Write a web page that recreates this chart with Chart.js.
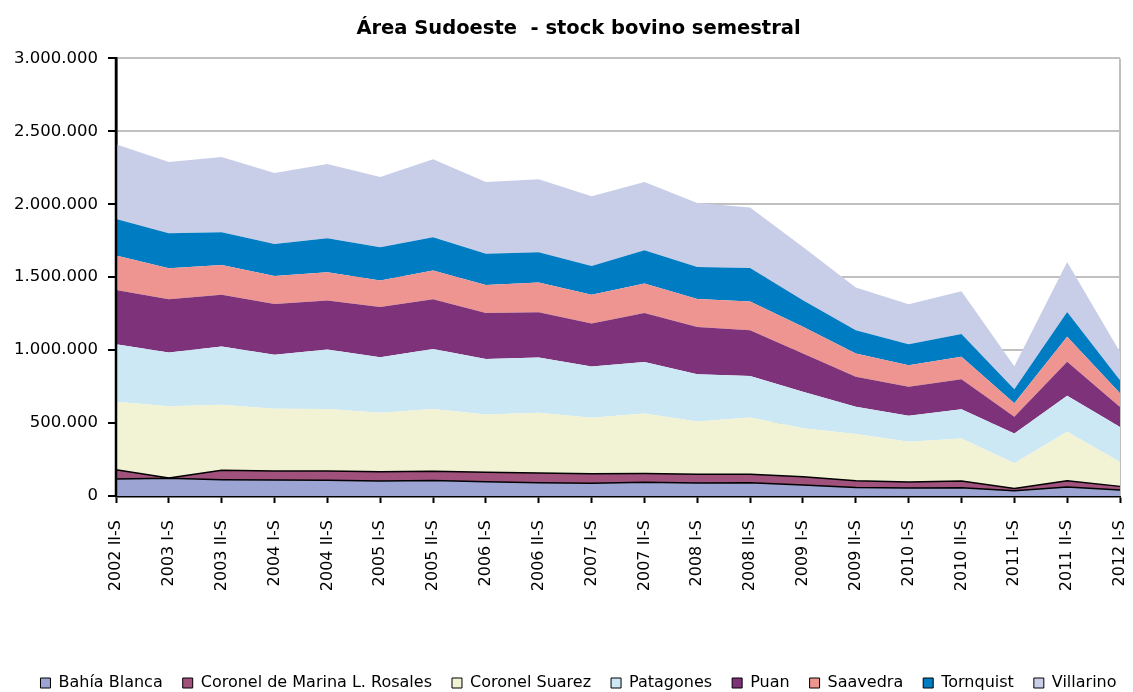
<!DOCTYPE html>
<html lang="es">
<head>
    <meta charset="UTF-8">
    <title>Área Sudoeste - stock bovino semestral</title>
    <script src="https://cdn.jsdelivr.net/npm/chart.js"></script>
    <style>
        body { margin: 0; background: #fff; }
        .wrap { width: 1133px; height: 692px; }
    </style>
</head>
<body>
    <div class="wrap"><canvas id="stockChart"></canvas></div>

    <script>
        // Semestres (eje X)
        const semestres = [
            '2002 II-S', '2003 I-S', '2003 II-S', '2004 I-S', '2004 II-S',
            '2005 I-S', '2005 II-S', '2006 I-S', '2006 II-S', '2007 I-S',
            '2007 II-S', '2008 I-S', '2008 II-S', '2009 I-S', '2009 II-S',
            '2010 I-S', '2010 II-S', '2011 I-S', '2011 II-S', '2012 I-S'
        ];

        // Cabezas por partido (aprox.)
        const bahiaBlanca = [116000, 121000, 112000, 110000, 108000, 103000, 106000, 98000, 91000, 87000, 94000, 89000, 91000, 75000, 59000, 55000, 57000, 36000, 62000, 41000];
        const rosales     = [64000, 2000, 64000, 61000, 63000, 63000, 63000, 64000, 67000, 66000, 61000, 60000, 58000, 57000, 46000, 41000, 46000, 16000, 43000, 25000];
        const suarez      = [466000, 493000, 449000, 427000, 425000, 404000, 427000, 397000, 412000, 383000, 411000, 362000, 390000, 332000, 320000, 276000, 292000, 172000, 335000, 167000];
        const patagones   = [395000, 368000, 400000, 370000, 408000, 382000, 411000, 381000, 380000, 352000, 352000, 324000, 283000, 250000, 187000, 178000, 199000, 205000, 247000, 240000];
        const puan        = [372000, 365000, 354000, 349000, 336000, 344000, 342000, 315000, 310000, 295000, 337000, 324000, 315000, 263000, 205000, 199000, 207000, 114000, 233000, 137000];
        const saavedra    = [235000, 212000, 205000, 192000, 194000, 181000, 197000, 192000, 203000, 196000, 202000, 192000, 196000, 183000, 160000, 148000, 153000, 92000, 171000, 95000];
        const tornquist   = [251000, 240000, 224000, 219000, 233000, 228000, 228000, 213000, 208000, 198000, 228000, 219000, 230000, 182000, 160000, 144000, 156000, 96000, 171000, 89000];
        const villarino   = [512000, 488000, 516000, 486000, 509000, 482000, 534000, 493000, 500000, 478000, 468000, 439000, 414000, 365000, 292000, 274000, 294000, 159000, 343000, 193000];

        const yTicks = [0, 500000, 1000000, 1500000, 2000000, 2500000, 3000000];

        const FONT = "'DejaVu Sans', sans-serif";

        function serie(label, data, color, outlined, fill) {
            return {
                label: label,
                data: data,
                backgroundColor: color,
                borderColor: outlined ? '#000' : color,
                borderWidth: outlined ? 1.5 : 0,
                pointRadius: 0,
                tension: 0,
                fill: fill
            };
        }

        // gray right edge behind the areas, black value axis on top of everything
        const plotFrame = {
            id: 'plotFrame',
            beforeDatasetsDraw(chart) {
                const { ctx, chartArea: a } = chart;
                ctx.save();
                ctx.strokeStyle = '#c0c0c0';
                ctx.lineWidth = 2;
                ctx.beginPath();
                ctx.moveTo(a.right, a.top);
                ctx.lineTo(a.right, a.bottom);
                ctx.stroke();
                ctx.restore();
            },
            afterDraw(chart) {
                const { ctx, chartArea: a } = chart;
                ctx.save();
                ctx.strokeStyle = '#000';
                ctx.lineWidth = 2.5;
                ctx.beginPath();
                ctx.moveTo(a.left, a.top);
                ctx.lineTo(a.left, a.bottom + 1);
                ctx.stroke();
                ctx.restore();
            }
        };

        window.onload = function() {
            new Chart(document.getElementById('stockChart'), {
                type: 'line',
                data: {
                    labels: semestres,
                    datasets: [
                        serie('Bahía Blanca', bahiaBlanca, '#9CA4D4', true, 'origin'),
                        serie('Coronel de Marina L. Rosales', rosales, '#A0527C', true, '-1'),
                        serie('Coronel Suarez', suarez, '#F2F2D4', false, '-1'),
                        serie('Patagones', patagones, '#CCE8F4', false, '-1'),
                        serie('Puan', puan, '#7E3279', false, '-1'),
                        serie('Saavedra', saavedra, '#EE9591', false, '-1'),
                        serie('Tornquist', tornquist, '#007CC3', false, '-1'),
                        serie('Villarino', villarino, '#C9CEE8', false, '-1')
                    ]
                },
                options: {
                    responsive: true,
                    maintainAspectRatio: false,
                    animation: false,
                    layout: { padding: { left: 5, right: -19, top: 0, bottom: -9 } },
                    plugins: {
                        title: {
                            display: true,
                            text: 'Área Sudoeste  - stock bovino semestral',
                            color: '#000',
                            font: { family: FONT, size: 19.5, weight: 'bold' },
                            padding: { top: 17, bottom: 18 }
                        },
                        legend: {
                            position: 'bottom',
                            labels: {
                                color: '#000',
                                font: { family: FONT, size: 16 },
                                boxWidth: 10,
                                boxHeight: 10,
                                padding: 20,
                                generateLabels(chart) {
                                    return Chart.defaults.plugins.legend.labels.generateLabels(chart)
                                        .map(l => ({ ...l, strokeStyle: '#000', lineWidth: 1 }));
                                }
                            }
                        },
                        tooltip: { enabled: false }
                    },
                    scales: {
                        x: {
                            offset: false,
                            z: 1,
                            afterFit: s => { s.height = 159; s.paddingRight = 0; },
                            grid: { display: true, drawOnChartArea: false, tickColor: '#000', tickLength: 7, tickWidth: 2 },
                            border: { color: '#000', width: 2.5 },
                            ticks: {
                                autoSkip: false,
                                maxRotation: 90,
                                minRotation: 90,
                                padding: 17,
                                color: '#000',
                                font: { family: FONT, size: 16 }
                            }
                        },
                        y: {
                            stacked: true,
                            min: 0,
                            max: 3000000,
                            afterFit: s => { s.width = 111; },
                            afterBuildTicks: s => { s.ticks = yTicks.map(v => ({ value: v })); },
                            grid: { color: '#c0c0c0', lineWidth: 2, tickColor: '#000', tickLength: 8, tickWidth: 2 },
                            border: { color: '#000', width: 2.5 },
                            ticks: {
                                padding: 10,
                                color: '#000',
                                font: { family: FONT, size: 16.5 },
                                callback: v => v.toLocaleString('de-DE')
                            }
                        },
                        // empty right-hand spacer so the title and legend centre like the original
                        spacer: {
                            type: 'linear',
                            position: 'right',
                            afterFit: s => { s.width = 32; },
                            grid: { display: false, drawTicks: false },
                            border: { display: false },
                            ticks: { display: false }
                        }
                    }
                },
                plugins: [plotFrame]
            });
        };
    </script>
</body>
</html>
